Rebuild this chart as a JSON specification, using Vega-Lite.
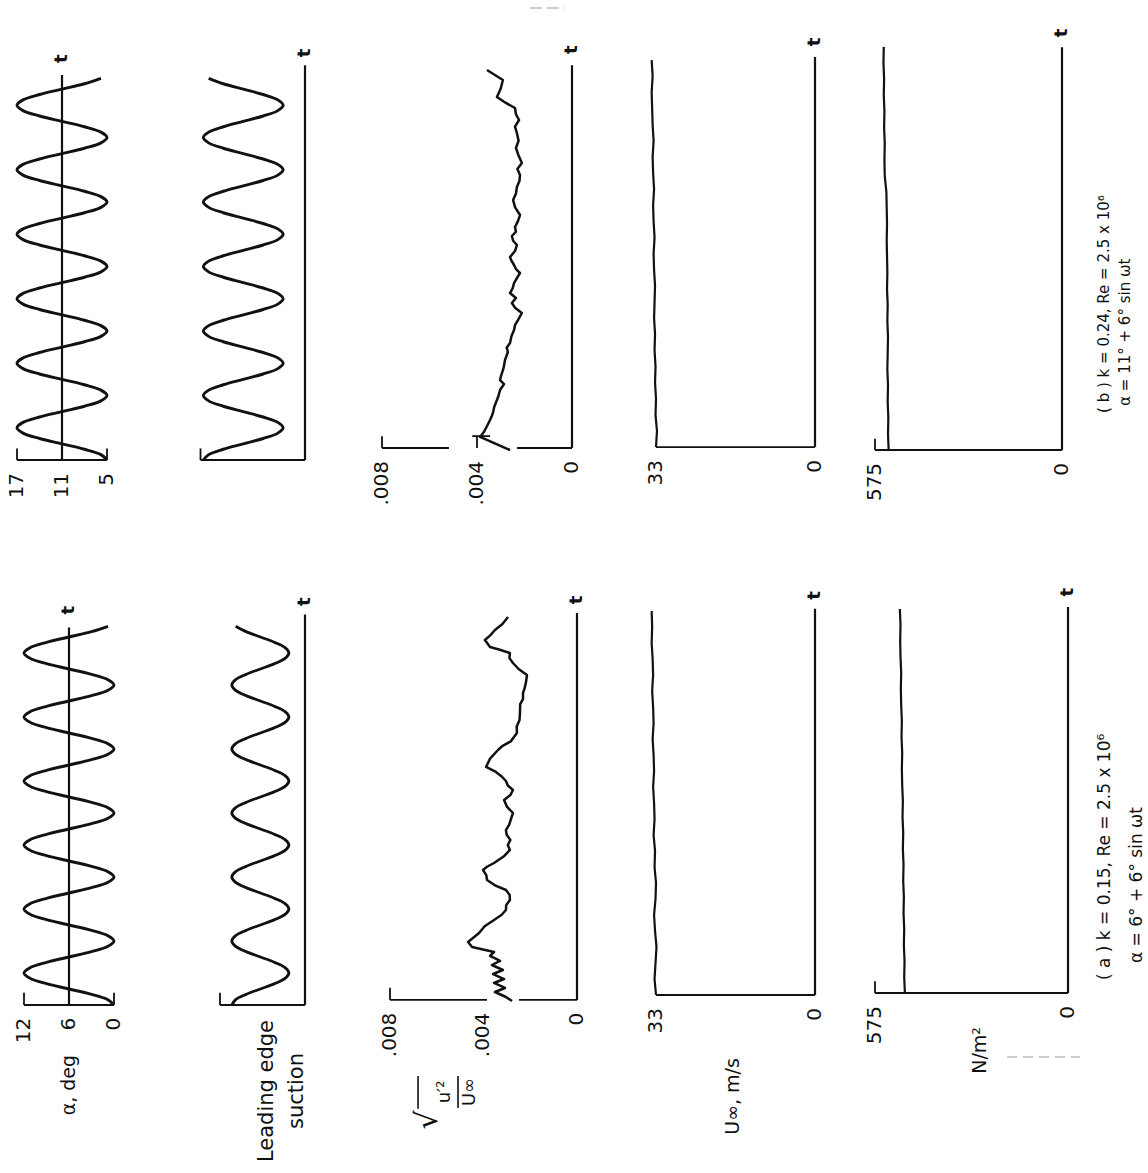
{
"$schema": "https://vega.github.io/schema/vega-lite/v6.json",
"padding": 0,
"background": "white",
"config": {"view": {"stroke": null}, "axis": {"disable": true}, "text": {"font": "DejaVu Sans", "color": "#111"}, "concat": {"spacing": 0}},
"datasets": {
"one": [{"k": 1}],
"sines": [
{"t":0,"ab":5,"aa":0,"lb":1.07,"la":0.77},{"t":0.0833,"ab":5.804,"aa":0.804,"lb":1.014,"la":0.73},{"t":0.1667,"ab":8,"aa":3,"lb":0.86,"la":0.62},{"t":0.25,"ab":11,"aa":6,"lb":0.65,"la":0.47},{"t":0.3333,"ab":14,"aa":9,"lb":0.44,"la":0.32},{"t":0.4167,"ab":16.196,"aa":11.196,"lb":0.286,"la":0.21},{"t":0.5,"ab":17,"aa":12,"lb":0.23,"la":0.17},{"t":0.5833,"ab":16.196,"aa":11.196,"lb":0.286,"la":0.21},{"t":0.6667,"ab":14,"aa":9,"lb":0.44,"la":0.32},{"t":0.75,"ab":11,"aa":6,"lb":0.65,"la":0.47},{"t":0.8333,"ab":8,"aa":3,"lb":0.86,"la":0.62},{"t":0.9167,"ab":5.804,"aa":0.804,"lb":1.014,"la":0.73},
{"t":1,"ab":5,"aa":0,"lb":1.07,"la":0.77},{"t":1.0833,"ab":5.804,"aa":0.804,"lb":1.014,"la":0.73},{"t":1.1667,"ab":8,"aa":3,"lb":0.86,"la":0.62},{"t":1.25,"ab":11,"aa":6,"lb":0.65,"la":0.47},{"t":1.3333,"ab":14,"aa":9,"lb":0.44,"la":0.32},{"t":1.4167,"ab":16.196,"aa":11.196,"lb":0.286,"la":0.21},{"t":1.5,"ab":17,"aa":12,"lb":0.23,"la":0.17},{"t":1.5833,"ab":16.196,"aa":11.196,"lb":0.286,"la":0.21},{"t":1.6667,"ab":14,"aa":9,"lb":0.44,"la":0.32},{"t":1.75,"ab":11,"aa":6,"lb":0.65,"la":0.47},{"t":1.8333,"ab":8,"aa":3,"lb":0.86,"la":0.62},{"t":1.9167,"ab":5.804,"aa":0.804,"lb":1.014,"la":0.73},
{"t":2,"ab":5,"aa":0,"lb":1.07,"la":0.77},{"t":2.0833,"ab":5.804,"aa":0.804,"lb":1.014,"la":0.73},{"t":2.1667,"ab":8,"aa":3,"lb":0.86,"la":0.62},{"t":2.25,"ab":11,"aa":6,"lb":0.65,"la":0.47},{"t":2.3333,"ab":14,"aa":9,"lb":0.44,"la":0.32},{"t":2.4167,"ab":16.196,"aa":11.196,"lb":0.286,"la":0.21},{"t":2.5,"ab":17,"aa":12,"lb":0.23,"la":0.17},{"t":2.5833,"ab":16.196,"aa":11.196,"lb":0.286,"la":0.21},{"t":2.6667,"ab":14,"aa":9,"lb":0.44,"la":0.32},{"t":2.75,"ab":11,"aa":6,"lb":0.65,"la":0.47},{"t":2.8333,"ab":8,"aa":3,"lb":0.86,"la":0.62},{"t":2.9167,"ab":5.804,"aa":0.804,"lb":1.014,"la":0.73},
{"t":3,"ab":5,"aa":0,"lb":1.07,"la":0.77},{"t":3.0833,"ab":5.804,"aa":0.804,"lb":1.014,"la":0.73},{"t":3.1667,"ab":8,"aa":3,"lb":0.86,"la":0.62},{"t":3.25,"ab":11,"aa":6,"lb":0.65,"la":0.47},{"t":3.3333,"ab":14,"aa":9,"lb":0.44,"la":0.32},{"t":3.4167,"ab":16.196,"aa":11.196,"lb":0.286,"la":0.21},{"t":3.5,"ab":17,"aa":12,"lb":0.23,"la":0.17},{"t":3.5833,"ab":16.196,"aa":11.196,"lb":0.286,"la":0.21},{"t":3.6667,"ab":14,"aa":9,"lb":0.44,"la":0.32},{"t":3.75,"ab":11,"aa":6,"lb":0.65,"la":0.47},{"t":3.8333,"ab":8,"aa":3,"lb":0.86,"la":0.62},{"t":3.9167,"ab":5.804,"aa":0.804,"lb":1.014,"la":0.73},
{"t":4,"ab":5,"aa":0,"lb":1.07,"la":0.77},{"t":4.0833,"ab":5.804,"aa":0.804,"lb":1.014,"la":0.73},{"t":4.1667,"ab":8,"aa":3,"lb":0.86,"la":0.62},{"t":4.25,"ab":11,"aa":6,"lb":0.65,"la":0.47},{"t":4.3333,"ab":14,"aa":9,"lb":0.44,"la":0.32},{"t":4.4167,"ab":16.196,"aa":11.196,"lb":0.286,"la":0.21},{"t":4.5,"ab":17,"aa":12,"lb":0.23,"la":0.17},{"t":4.5833,"ab":16.196,"aa":11.196,"lb":0.286,"la":0.21},{"t":4.6667,"ab":14,"aa":9,"lb":0.44,"la":0.32},{"t":4.75,"ab":11,"aa":6,"lb":0.65,"la":0.47},{"t":4.8333,"ab":8,"aa":3,"lb":0.86,"la":0.62},{"t":4.9167,"ab":5.804,"aa":0.804,"lb":1.014,"la":0.73},
{"t":5,"ab":5,"aa":0,"lb":1.07,"la":0.77},{"t":5.0833,"ab":5.804,"aa":0.804,"lb":1.014,"la":0.73},{"t":5.1667,"ab":8,"aa":3,"lb":0.86,"la":0.62},{"t":5.25,"ab":11,"aa":6,"lb":0.65,"la":0.47},{"t":5.3333,"ab":14,"aa":9,"lb":0.44,"la":0.32},{"t":5.4167,"ab":16.196,"aa":11.196,"lb":0.286,"la":0.21},{"t":5.5,"ab":17,"aa":12,"lb":0.23,"la":0.17},{"t":5.5833,"ab":16.196,"aa":11.196,"lb":0.286,"la":0.21},{"t":5.6667,"ab":14,"aa":9,"lb":0.44,"la":0.32},{"t":5.75,"ab":11,"aa":6,"lb":0.65,"la":0.47},{"t":5.8333,"ab":8,"aa":3,"lb":0.86,"la":0.62},{"t":5.9167,"ab":5.804,"aa":0.804,"lb":1.014,"la":0.73}
],
"turb_b": [
{"t":0.155,"v":0.00261},{"t":0.357,"v":0.00387},{"t":0.43,"v":0.00372},{"t":0.496,"v":0.00362},{"t":0.62,"v":0.00345},{"t":0.68,"v":0.00338},{"t":0.729,"v":0.00333},{"t":0.83,"v":0.00327},{"t":0.93,"v":0.00316},{"t":1.0,"v":0.00309},{"t":1.085,"v":0.00303},{"t":1.178,"v":0.00286},{"t":1.24,"v":0.00303},{"t":1.302,"v":0.00299},{"t":1.43,"v":0.00288},{"t":1.55,"v":0.00282},{"t":1.674,"v":0.0027},{"t":1.74,"v":0.00275},{"t":1.814,"v":0.00261},{"t":1.92,"v":0.00255},{"t":2.016,"v":0.00244},{"t":2.09,"v":0.0024},{"t":2.171,"v":0.00227},{"t":2.279,"v":0.00211},{"t":2.36,"v":0.0024},{"t":2.434,"v":0.00253},{"t":2.512,"v":0.00236},{"t":2.589,"v":0.00261},{"t":2.66,"v":0.0025},{"t":2.744,"v":0.00244},{"t":2.82,"v":0.00232},{"t":2.899,"v":0.00219},{"t":2.96,"v":0.00236},{"t":3.023,"v":0.00244},{"t":3.09,"v":0.00255},{"t":3.147,"v":0.00261},{"t":3.24,"v":0.0024},{"t":3.333,"v":0.00232},{"t":3.4,"v":0.00248},{"t":3.473,"v":0.00253},{"t":3.54,"v":0.00236},{"t":3.612,"v":0.0024},{"t":3.7,"v":0.00228},{"t":3.798,"v":0.00219},{"t":3.92,"v":0.0024},{"t":4.031,"v":0.00248},{"t":4.13,"v":0.00236},{"t":4.233,"v":0.00232},{"t":4.33,"v":0.00221},{"t":4.419,"v":0.00219},{"t":4.51,"v":0.0023},{"t":4.605,"v":0.00211},{"t":4.72,"v":0.00225},{"t":4.837,"v":0.00236},{"t":4.95,"v":0.00225},{"t":5.07,"v":0.00232},{"t":5.17,"v":0.0024},{"t":5.271,"v":0.00223},{"t":5.36,"v":0.00236},{"t":5.457,"v":0.0024},{"t":5.54,"v":0.0028},{"t":5.628,"v":0.00316},{"t":5.76,"v":0.003},{"t":5.891,"v":0.00291},{"t":6.047,"v":0.00358}
],
"turb_a": [
{"t":0.063,"v":0.00278},{"t":0.125,"v":0.00304},{"t":0.203,"v":0.00351},{"t":0.266,"v":0.00308},{"t":0.344,"v":0.00355},{"t":0.406,"v":0.00312},{"t":0.484,"v":0.00359},{"t":0.547,"v":0.00317},{"t":0.625,"v":0.00364},{"t":0.688,"v":0.00329},{"t":0.766,"v":0.00372},{"t":0.828,"v":0.00355},{"t":0.906,"v":0.00449},{"t":0.984,"v":0.00466},{"t":1.125,"v":0.00419},{"t":1.23,"v":0.00395},{"t":1.328,"v":0.00355},{"t":1.41,"v":0.00322},{"t":1.484,"v":0.00304},{"t":1.56,"v":0.00303},{"t":1.641,"v":0.00287},{"t":1.72,"v":0.00288},{"t":1.797,"v":0.00304},{"t":1.87,"v":0.00351},{"t":1.953,"v":0.00385},{"t":2.03,"v":0.00388},{"t":2.109,"v":0.00402},{"t":2.16,"v":0.00385},{"t":2.219,"v":0.00355},{"t":2.32,"v":0.00314},{"t":2.422,"v":0.00287},{"t":2.5,"v":0.00296},{"t":2.58,"v":0.00285},{"t":2.66,"v":0.00301},{"t":2.734,"v":0.00304},{"t":2.82,"v":0.0029},{"t":2.91,"v":0.00282},{"t":3.0,"v":0.00274},{"t":3.1,"v":0.003},{"t":3.203,"v":0.00312},{"t":3.28,"v":0.00285},{"t":3.359,"v":0.00274},{"t":3.43,"v":0.00296},{"t":3.5,"v":0.00304},{"t":3.57,"v":0.00322},{"t":3.641,"v":0.00347},{"t":3.719,"v":0.00389},{"t":3.85,"v":0.00372},{"t":3.984,"v":0.00338},{"t":4.05,"v":0.00318},{"t":4.12,"v":0.00283},{"t":4.25,"v":0.00257},{"t":4.35,"v":0.00258},{"t":4.45,"v":0.00246},{"t":4.563,"v":0.00244},{"t":4.7,"v":0.00243},{"t":4.78,"v":0.00231},{"t":4.875,"v":0.00231},{"t":4.95,"v":0.00224},{"t":5.05,"v":0.00218},{"t":5.156,"v":0.00214},{"t":5.25,"v":0.0025},{"t":5.344,"v":0.00274},{"t":5.42,"v":0.00289},{"t":5.5,"v":0.00287},{"t":5.55,"v":0.0033},{"t":5.594,"v":0.00372},{"t":5.703,"v":0.00394},{"t":5.78,"v":0.0037},{"t":5.859,"v":0.00351},{"t":5.95,"v":0.0032},{"t":6.063,"v":0.00295}
],
"u_b": [
{"t":0.2,"v":33.0},{"t":0.45,"v":32.8},{"t":0.7,"v":33.1},{"t":0.95,"v":33.0},{"t":1.2,"v":33.2},{"t":1.45,"v":33.1},{"t":1.7,"v":33.3},{"t":1.95,"v":33.2},{"t":2.2,"v":33.4},{"t":2.45,"v":33.3},{"t":2.7,"v":33.2},{"t":2.95,"v":33.4},{"t":3.2,"v":33.5},{"t":3.45,"v":33.3},{"t":3.7,"v":33.5},{"t":3.95,"v":33.6},{"t":4.2,"v":33.4},{"t":4.45,"v":33.6},{"t":4.7,"v":33.7},{"t":4.95,"v":33.5},{"t":5.2,"v":33.7},{"t":5.45,"v":33.8},{"t":5.7,"v":33.9},{"t":5.95,"v":33.7},{"t":6.2,"v":33.9}
],
"u_a": [
{"t":0.156,"v":33.0},{"t":0.406,"v":33.3},{"t":0.656,"v":33.1},{"t":0.906,"v":32.9},{"t":1.156,"v":33.2},{"t":1.406,"v":33.4},{"t":1.656,"v":33.1},{"t":1.906,"v":33.0},{"t":2.156,"v":33.3},{"t":2.406,"v":33.2},{"t":2.656,"v":33.5},{"t":2.906,"v":33.3},{"t":3.156,"v":33.4},{"t":3.406,"v":33.6},{"t":3.656,"v":33.4},{"t":3.906,"v":33.5},{"t":4.156,"v":33.7},{"t":4.406,"v":33.5},{"t":4.656,"v":33.6},{"t":4.906,"v":33.8},{"t":5.156,"v":33.6},{"t":5.406,"v":33.7},{"t":5.656,"v":33.9},{"t":5.906,"v":33.8},{"t":6.156,"v":33.9}
],
"n_b": [
{"t":0.155,"v":533},{"t":0.405,"v":535},{"t":0.655,"v":534},{"t":0.905,"v":536},{"t":1.155,"v":535},{"t":1.405,"v":537},{"t":1.655,"v":536},{"t":1.905,"v":535},{"t":2.155,"v":537},{"t":2.405,"v":536},{"t":2.655,"v":538},{"t":2.905,"v":537},{"t":3.155,"v":538},{"t":3.405,"v":539},{"t":3.655,"v":538},{"t":3.905,"v":539},{"t":4.155,"v":540},{"t":4.405,"v":545},{"t":4.655,"v":546},{"t":4.905,"v":545},{"t":5.155,"v":547},{"t":5.405,"v":546},{"t":5.655,"v":548},{"t":5.905,"v":547},{"t":6.155,"v":549},{"t":6.405,"v":548}
],
"n_a": [
{"t":0.1875,"v":486},{"t":0.4375,"v":488},{"t":0.6875,"v":487},{"t":0.9375,"v":489},{"t":1.1875,"v":488},{"t":1.4375,"v":490},{"t":1.6875,"v":489},{"t":1.9375,"v":491},{"t":2.1875,"v":490},{"t":2.4375,"v":492},{"t":2.6875,"v":491},{"t":2.9375,"v":493},{"t":3.1875,"v":492},{"t":3.4375,"v":494},{"t":3.6875,"v":495},{"t":3.9375,"v":494},{"t":4.1875,"v":496},{"t":4.4375,"v":495},{"t":4.6875,"v":497},{"t":4.9375,"v":498},{"t":5.1875,"v":497},{"t":5.4375,"v":499},{"t":5.6875,"v":500},{"t":5.9375,"v":499},{"t":6.1875,"v":501}
]
},
"spacing": 0,
"vconcat": [
{"spacing": 0, "bounds": "flush", "hconcat": [
 {"width": 150, "height": 540, "data": {"name": "one"},
  "layer": [
   {"data": {"name": "sines"}, "mark": {"type": "line", "interpolate": "catmull-rom", "strokeWidth": 2.9, "color": "#111"},
    "encoding": {"x": {"field": "ab", "type": "quantitative", "scale": {"domain": [19.2667, -0.7333], "nice": false, "zero": false}, "axis": null}, "y": {"field": "t", "type": "quantitative", "scale": {"domain": [-1.2403, 7.1318], "nice": false, "zero": false}, "axis": null}, "order": {"field": "t"}}},
   {"mark": {"type": "rule", "strokeWidth": 2.2, "color": "#111"}, "encoding": {"x": {"datum": 11, "type": "quantitative", "scale": {"domain": [19.2667, -0.7333], "nice": false, "zero": false}, "axis": null}, "y": {"datum": 0, "type": "quantitative", "scale": {"domain": [-1.2403, 7.1318], "nice": false, "zero": false}, "axis": null}, "y2": {"datum": 5.97}}},
   {"mark": {"type": "rule", "strokeWidth": 1.8, "color": "#111"}, "encoding": {"x": {"datum": 17, "type": "quantitative", "scale": {"domain": [19.2667, -0.7333], "nice": false, "zero": false}, "axis": null}, "x2": {"datum": 5}, "y": {"datum": 0, "type": "quantitative", "scale": {"domain": [-1.2403, 7.1318], "nice": false, "zero": false}, "axis": null}}},
   {"data": {"values": [{"v": 17}, {"v": 5}]}, "mark": {"type": "rule", "strokeWidth": 1.8, "color": "#111"}, "encoding": {"x": {"field": "v", "type": "quantitative", "scale": {"domain": [19.2667, -0.7333], "nice": false, "zero": false}, "axis": null}, "y": {"datum": 0, "type": "quantitative", "scale": {"domain": [-1.2403, 7.1318], "nice": false, "zero": false}, "axis": null}, "y2": {"datum": 0.18}}},
   {"data": {"values": [{"v": 17, "label": "17"}, {"v": 11, "label": "11"}, {"v": 5, "label": "5"}]}, "mark": {"type": "text", "angle": 270, "align": "right", "baseline": "middle", "fontSize": 20}, "encoding": {"x": {"field": "v", "type": "quantitative", "scale": {"domain": [19.2667, -0.7333], "nice": false, "zero": false}, "axis": null}, "y": {"datum": -0.2, "type": "quantitative", "scale": {"domain": [-1.2403, 7.1318], "nice": false, "zero": false}, "axis": null}, "text": {"field": "label"}}},
   {"mark": {"type": "text", "angle": 270, "align": "center", "baseline": "middle", "fontSize": 18, "fontWeight": "bold", "text": "t"}, "encoding": {"x": {"datum": 11, "type": "quantitative", "scale": {"domain": [19.2667, -0.7333], "nice": false, "zero": false}, "axis": null}, "y": {"datum": 6.22, "type": "quantitative", "scale": {"domain": [-1.2403, 7.1318], "nice": false, "zero": false}, "axis": null}}}
  ]},
 {"width": 190, "height": 540, "data": {"name": "one"},
  "layer": [
   {"data": {"name": "sines"}, "mark": {"type": "line", "interpolate": "catmull-rom", "strokeWidth": 2.9, "color": "#111"},
    "encoding": {"x": {"field": "lb", "type": "quantitative", "scale": {"domain": [1.6316, -0.3684], "nice": false, "zero": false}, "axis": null}, "y": {"field": "t", "type": "quantitative", "scale": {"domain": [-1.2403, 7.1318], "nice": false, "zero": false}, "axis": null}, "order": {"field": "t"}}},
   {"mark": {"type": "rule", "strokeWidth": 2.2, "color": "#111"}, "encoding": {"x": {"datum": 0, "type": "quantitative", "scale": {"domain": [1.6316, -0.3684], "nice": false, "zero": false}, "axis": null}, "y": {"datum": 0, "type": "quantitative", "scale": {"domain": [-1.2403, 7.1318], "nice": false, "zero": false}, "axis": null}, "y2": {"datum": 6.12}}},
   {"mark": {"type": "rule", "strokeWidth": 1.8, "color": "#111"}, "encoding": {"x": {"datum": 1.1, "type": "quantitative", "scale": {"domain": [1.6316, -0.3684], "nice": false, "zero": false}, "axis": null}, "x2": {"datum": 0}, "y": {"datum": 0, "type": "quantitative", "scale": {"domain": [-1.2403, 7.1318], "nice": false, "zero": false}, "axis": null}}},
   {"mark": {"type": "rule", "strokeWidth": 1.8, "color": "#111"}, "encoding": {"x": {"datum": 1.1, "type": "quantitative", "scale": {"domain": [1.6316, -0.3684], "nice": false, "zero": false}, "axis": null}, "y": {"datum": 0, "type": "quantitative", "scale": {"domain": [-1.2403, 7.1318], "nice": false, "zero": false}, "axis": null}, "y2": {"datum": 0.18}}},
   {"mark": {"type": "text", "angle": 270, "align": "center", "baseline": "middle", "fontSize": 18, "fontWeight": "bold", "text": "t"}, "encoding": {"x": {"datum": 0, "type": "quantitative", "scale": {"domain": [1.6316, -0.3684], "nice": false, "zero": false}, "axis": null}, "y": {"datum": 6.31, "type": "quantitative", "scale": {"domain": [-1.2403, 7.1318], "nice": false, "zero": false}, "axis": null}}}
  ]},
 {"width": 275, "height": 540, "data": {"name": "one"},
  "layer": [
   {"data": {"name": "turb_b"}, "mark": {"type": "line", "strokeWidth": 2.5, "color": "#111", "strokeJoin": "round"}, "encoding": {"x": {"field": "v", "type": "quantitative", "scale": {"domain": [0.0097684, -0.0018105], "nice": false, "zero": false}, "axis": null}, "y": {"field": "t", "type": "quantitative", "scale": {"domain": [-1.2403, 7.1318], "nice": false, "zero": false}, "axis": null}, "order": {"field": "t"}}},
   {"mark": {"type": "rule", "strokeWidth": 2.2, "color": "#111"}, "encoding": {"x": {"datum": 0, "type": "quantitative", "scale": {"domain": [0.0097684, -0.0018105], "nice": false, "zero": false}, "axis": null}, "y": {"datum": 0.186, "type": "quantitative", "scale": {"domain": [-1.2403, 7.1318], "nice": false, "zero": false}, "axis": null}, "y2": {"datum": 6.12}}},
   {"data": {"values": [{"v": 0.008, "v2": 0.00518}, {"v": 0.00232, "v2": 0}]}, "mark": {"type": "rule", "strokeWidth": 1.8, "color": "#111"}, "encoding": {"x": {"field": "v", "type": "quantitative", "scale": {"domain": [0.0097684, -0.0018105], "nice": false, "zero": false}, "axis": null}, "x2": {"field": "v2"}, "y": {"datum": 0.186, "type": "quantitative", "scale": {"domain": [-1.2403, 7.1318], "nice": false, "zero": false}, "axis": null}}},
   {"data": {"values": [{"v": 0.008}, {"v": 0.004}]}, "mark": {"type": "rule", "strokeWidth": 1.8, "color": "#111"}, "encoding": {"x": {"field": "v", "type": "quantitative", "scale": {"domain": [0.0097684, -0.0018105], "nice": false, "zero": false}, "axis": null}, "y": {"datum": 0.186, "type": "quantitative", "scale": {"domain": [-1.2403, 7.1318], "nice": false, "zero": false}, "axis": null}, "y2": {"datum": 0.37}}},
   {"mark": {"type": "rule", "strokeWidth": 1.8, "color": "#111"}, "encoding": {"x": {"datum": 0.0042, "type": "quantitative", "scale": {"domain": [0.0097684, -0.0018105], "nice": false, "zero": false}, "axis": null}, "x2": {"datum": 0.00345}, "y": {"datum": 0.37, "type": "quantitative", "scale": {"domain": [-1.2403, 7.1318], "nice": false, "zero": false}, "axis": null}}},
   {"data": {"values": [{"v": 0.008, "label": ".008"}, {"v": 0.004, "label": ".004"}, {"v": 0, "label": "0"}]}, "mark": {"type": "text", "angle": 270, "align": "right", "baseline": "middle", "fontSize": 20}, "encoding": {"x": {"field": "v", "type": "quantitative", "scale": {"domain": [0.0097684, -0.0018105], "nice": false, "zero": false}, "axis": null}, "y": {"datum": -0.016, "type": "quantitative", "scale": {"domain": [-1.2403, 7.1318], "nice": false, "zero": false}, "axis": null}, "text": {"field": "label"}}},
   {"mark": {"type": "rule", "strokeWidth": 1.2, "color": "#999", "strokeDash": [12, 5]}, "encoding": {"x": {"datum": 0.00177, "type": "quantitative", "scale": {"domain": [0.0097684, -0.0018105], "nice": false, "zero": false}, "axis": null}, "x2": {"datum": 0.0003}, "y": {"datum": 7.008, "type": "quantitative", "scale": {"domain": [-1.2403, 7.1318], "nice": false, "zero": false}, "axis": null}}},
   {"mark": {"type": "text", "angle": 270, "align": "center", "baseline": "middle", "fontSize": 18, "fontWeight": "bold", "text": "t"}, "encoding": {"x": {"datum": 0, "type": "quantitative", "scale": {"domain": [0.0097684, -0.0018105], "nice": false, "zero": false}, "axis": null}, "y": {"datum": 6.36, "type": "quantitative", "scale": {"domain": [-1.2403, 7.1318], "nice": false, "zero": false}, "axis": null}}}
  ]},
 {"width": 240, "height": 540, "data": {"name": "one"},
  "layer": [
   {"data": {"name": "u_b"}, "mark": {"type": "line", "strokeWidth": 2.2, "color": "#111"}, "encoding": {"x": {"field": "v", "type": "quantitative", "scale": {"domain": [41.51, -8.3], "nice": false, "zero": false}, "axis": null}, "y": {"field": "t", "type": "quantitative", "scale": {"domain": [-1.2403, 7.1318], "nice": false, "zero": false}, "axis": null}, "order": {"field": "t"}}},
   {"mark": {"type": "rule", "strokeWidth": 2.2, "color": "#111"}, "encoding": {"x": {"datum": 0, "type": "quantitative", "scale": {"domain": [41.51, -8.3], "nice": false, "zero": false}, "axis": null}, "y": {"datum": 0.2, "type": "quantitative", "scale": {"domain": [-1.2403, 7.1318], "nice": false, "zero": false}, "axis": null}, "y2": {"datum": 6.25}}},
   {"mark": {"type": "rule", "strokeWidth": 1.8, "color": "#111"}, "encoding": {"x": {"datum": 33, "type": "quantitative", "scale": {"domain": [41.51, -8.3], "nice": false, "zero": false}, "axis": null}, "x2": {"datum": 0}, "y": {"datum": 0.2, "type": "quantitative", "scale": {"domain": [-1.2403, 7.1318], "nice": false, "zero": false}, "axis": null}}},
   {"data": {"values": [{"v": 33, "label": "33"}, {"v": 0, "label": "0"}]}, "mark": {"type": "text", "angle": 270, "align": "right", "baseline": "middle", "fontSize": 20}, "encoding": {"x": {"field": "v", "type": "quantitative", "scale": {"domain": [41.51, -8.3], "nice": false, "zero": false}, "axis": null}, "y": {"datum": 0.0, "type": "quantitative", "scale": {"domain": [-1.2403, 7.1318], "nice": false, "zero": false}, "axis": null}, "text": {"field": "label"}}},
   {"mark": {"type": "text", "angle": 270, "align": "center", "baseline": "middle", "fontSize": 18, "fontWeight": "bold", "text": "t"}, "encoding": {"x": {"datum": 0, "type": "quantitative", "scale": {"domain": [41.51, -8.3], "nice": false, "zero": false}, "axis": null}, "y": {"datum": 6.48, "type": "quantitative", "scale": {"domain": [-1.2403, 7.1318], "nice": false, "zero": false}, "axis": null}}}
  ]},
 {"width": 235, "height": 540, "data": {"name": "one"},
  "layer": [
   {"data": {"name": "n_b"}, "mark": {"type": "line", "strokeWidth": 2.2, "color": "#111"}, "encoding": {"x": {"field": "v", "type": "quantitative", "scale": {"domain": [636.5, -86.1], "nice": false, "zero": false}, "axis": null}, "y": {"field": "t", "type": "quantitative", "scale": {"domain": [-1.2403, 7.1318], "nice": false, "zero": false}, "axis": null}, "order": {"field": "t"}}},
   {"mark": {"type": "rule", "strokeWidth": 2.2, "color": "#111"}, "encoding": {"x": {"datum": 0, "type": "quantitative", "scale": {"domain": [636.5, -86.1], "nice": false, "zero": false}, "axis": null}, "y": {"datum": 0.155, "type": "quantitative", "scale": {"domain": [-1.2403, 7.1318], "nice": false, "zero": false}, "axis": null}, "y2": {"datum": 6.4}}},
   {"mark": {"type": "rule", "strokeWidth": 1.8, "color": "#111"}, "encoding": {"x": {"datum": 575, "type": "quantitative", "scale": {"domain": [636.5, -86.1], "nice": false, "zero": false}, "axis": null}, "x2": {"datum": 0}, "y": {"datum": 0.155, "type": "quantitative", "scale": {"domain": [-1.2403, 7.1318], "nice": false, "zero": false}, "axis": null}}},
   {"mark": {"type": "rule", "strokeWidth": 1.8, "color": "#111"}, "encoding": {"x": {"datum": 575, "type": "quantitative", "scale": {"domain": [636.5, -86.1], "nice": false, "zero": false}, "axis": null}, "y": {"datum": 0.155, "type": "quantitative", "scale": {"domain": [-1.2403, 7.1318], "nice": false, "zero": false}, "axis": null}, "y2": {"datum": 0.33}}},
   {"data": {"values": [{"v": 575, "label": "575"}, {"v": 0, "label": "0"}]}, "mark": {"type": "text", "angle": 270, "align": "right", "baseline": "middle", "fontSize": 20}, "encoding": {"x": {"field": "v", "type": "quantitative", "scale": {"domain": [636.5, -86.1], "nice": false, "zero": false}, "axis": null}, "y": {"datum": -0.045, "type": "quantitative", "scale": {"domain": [-1.2403, 7.1318], "nice": false, "zero": false}, "axis": null}, "text": {"field": "label"}}},
   {"mark": {"type": "text", "angle": 270, "align": "center", "baseline": "middle", "fontSize": 18, "fontWeight": "bold", "text": "t"}, "encoding": {"x": {"datum": 0, "type": "quantitative", "scale": {"domain": [636.5, -86.1], "nice": false, "zero": false}, "axis": null}, "y": {"datum": 6.62, "type": "quantitative", "scale": {"domain": [-1.2403, 7.1318], "nice": false, "zero": false}, "axis": null}}}
  ]},
 {"width": 58, "height": 540, "data": {"name": "one"},
  "layer": [
   {"mark": {"type": "text", "angle": 270, "align": "left", "baseline": "middle", "fontSize": 15, "text": "( b )  k = 0.24,  Re = 2.5 x 10⁶"}, "encoding": {"x": {"datum": 14, "type": "quantitative", "scale": {"domain": [0, 58], "nice": false, "zero": false}, "axis": null}, "y": {"datum": 0.73, "type": "quantitative", "scale": {"domain": [-1.2403, 7.1318], "nice": false, "zero": false}, "axis": null}}},
   {"mark": {"type": "text", "angle": 270, "align": "left", "baseline": "middle", "fontSize": 15, "text": "α = 11° + 6°  sin ωt"}, "encoding": {"x": {"datum": 35, "type": "quantitative", "scale": {"domain": [0, 58], "nice": false, "zero": false}, "axis": null}, "y": {"datum": 0.84, "type": "quantitative", "scale": {"domain": [-1.2403, 7.1318], "nice": false, "zero": false}, "axis": null}}}
  ]}
]},
{"spacing": 0, "bounds": "flush", "hconcat": [
 {"width": 150, "height": 633, "data": {"name": "one"},
  "layer": [
   {"data": {"name": "sines"}, "mark": {"type": "line", "interpolate": "catmull-rom", "strokeWidth": 2.9, "color": "#111"},
    "encoding": {"x": {"field": "aa", "type": "quantitative", "scale": {"domain": [15.2, -4.8], "nice": false, "zero": false}, "axis": null}, "y": {"field": "t", "type": "quantitative", "scale": {"domain": [-2.625, 7.2656], "nice": false, "zero": false}, "axis": null}, "order": {"field": "t"}}},
   {"mark": {"type": "rule", "strokeWidth": 2.2, "color": "#111"}, "encoding": {"x": {"datum": 6, "type": "quantitative", "scale": {"domain": [15.2, -4.8], "nice": false, "zero": false}, "axis": null}, "y": {"datum": 0, "type": "quantitative", "scale": {"domain": [-2.625, 7.2656], "nice": false, "zero": false}, "axis": null}, "y2": {"datum": 5.9}}},
   {"mark": {"type": "rule", "strokeWidth": 1.8, "color": "#111"}, "encoding": {"x": {"datum": 12, "type": "quantitative", "scale": {"domain": [15.2, -4.8], "nice": false, "zero": false}, "axis": null}, "x2": {"datum": 0}, "y": {"datum": 0, "type": "quantitative", "scale": {"domain": [-2.625, 7.2656], "nice": false, "zero": false}, "axis": null}}},
   {"data": {"values": [{"v": 12}, {"v": 0}]}, "mark": {"type": "rule", "strokeWidth": 1.8, "color": "#111"}, "encoding": {"x": {"field": "v", "type": "quantitative", "scale": {"domain": [15.2, -4.8], "nice": false, "zero": false}, "axis": null}, "y": {"datum": 0, "type": "quantitative", "scale": {"domain": [-2.625, 7.2656], "nice": false, "zero": false}, "axis": null}, "y2": {"datum": 0.19}}},
   {"data": {"values": [{"v": 12, "label": "12"}, {"v": 6, "label": "6"}, {"v": 0, "label": "0"}]}, "mark": {"type": "text", "angle": 270, "align": "right", "baseline": "middle", "fontSize": 20}, "encoding": {"x": {"field": "v", "type": "quantitative", "scale": {"domain": [15.2, -4.8], "nice": false, "zero": false}, "axis": null}, "y": {"datum": -0.2, "type": "quantitative", "scale": {"domain": [-2.625, 7.2656], "nice": false, "zero": false}, "axis": null}, "text": {"field": "label"}}},
   {"mark": {"type": "text", "angle": 270, "align": "right", "baseline": "middle", "fontSize": 19, "text": "α, deg"}, "encoding": {"x": {"datum": 6, "type": "quantitative", "scale": {"domain": [15.2, -4.8], "nice": false, "zero": false}, "axis": null}, "y": {"datum": -0.78, "type": "quantitative", "scale": {"domain": [-2.625, 7.2656], "nice": false, "zero": false}, "axis": null}}},
   {"mark": {"type": "text", "angle": 270, "align": "center", "baseline": "middle", "fontSize": 18, "fontWeight": "bold", "text": "t"}, "encoding": {"x": {"datum": 6, "type": "quantitative", "scale": {"domain": [15.2, -4.8], "nice": false, "zero": false}, "axis": null}, "y": {"datum": 6.17, "type": "quantitative", "scale": {"domain": [-2.625, 7.2656], "nice": false, "zero": false}, "axis": null}}}
  ]},
 {"width": 190, "height": 633, "data": {"name": "one"},
  "layer": [
   {"data": {"name": "sines"}, "mark": {"type": "line", "interpolate": "catmull-rom", "strokeWidth": 2.9, "color": "#111"},
    "encoding": {"x": {"field": "la", "type": "quantitative", "scale": {"domain": [1.6316, -0.3684], "nice": false, "zero": false}, "axis": null}, "y": {"field": "t", "type": "quantitative", "scale": {"domain": [-2.625, 7.2656], "nice": false, "zero": false}, "axis": null}, "order": {"field": "t"}}},
   {"mark": {"type": "rule", "strokeWidth": 2.2, "color": "#111"}, "encoding": {"x": {"datum": 0, "type": "quantitative", "scale": {"domain": [1.6316, -0.3684], "nice": false, "zero": false}, "axis": null}, "y": {"datum": 0, "type": "quantitative", "scale": {"domain": [-2.625, 7.2656], "nice": false, "zero": false}, "axis": null}, "y2": {"datum": 6.1}}},
   {"mark": {"type": "rule", "strokeWidth": 1.8, "color": "#111"}, "encoding": {"x": {"datum": 0.895, "type": "quantitative", "scale": {"domain": [1.6316, -0.3684], "nice": false, "zero": false}, "axis": null}, "x2": {"datum": 0}, "y": {"datum": 0, "type": "quantitative", "scale": {"domain": [-2.625, 7.2656], "nice": false, "zero": false}, "axis": null}}},
   {"mark": {"type": "rule", "strokeWidth": 1.8, "color": "#111"}, "encoding": {"x": {"datum": 0.895, "type": "quantitative", "scale": {"domain": [1.6316, -0.3684], "nice": false, "zero": false}, "axis": null}, "y": {"datum": 0, "type": "quantitative", "scale": {"domain": [-2.625, 7.2656], "nice": false, "zero": false}, "axis": null}, "y2": {"datum": 0.19}}},
   {"mark": {"type": "text", "angle": 270, "align": "center", "baseline": "middle", "fontSize": 21, "lineHeight": 30, "text": ["Leading edge", "suction"]}, "encoding": {"x": {"datum": 0.4, "type": "quantitative", "scale": {"domain": [1.6316, -0.3684], "nice": false, "zero": false}, "axis": null}, "y": {"datum": -1.344, "type": "quantitative", "scale": {"domain": [-2.625, 7.2656], "nice": false, "zero": false}, "axis": null}}},
   {"mark": {"type": "text", "angle": 270, "align": "center", "baseline": "middle", "fontSize": 18, "fontWeight": "bold", "text": "t"}, "encoding": {"x": {"datum": 0, "type": "quantitative", "scale": {"domain": [1.6316, -0.3684], "nice": false, "zero": false}, "axis": null}, "y": {"datum": 6.3, "type": "quantitative", "scale": {"domain": [-2.625, 7.2656], "nice": false, "zero": false}, "axis": null}}}
  ]},
 {"width": 275, "height": 633, "data": {"name": "one"},
  "layer": [
   {"data": {"name": "turb_a"}, "mark": {"type": "line", "strokeWidth": 2.5, "color": "#111", "strokeJoin": "round"}, "encoding": {"x": {"field": "v", "type": "quantitative", "scale": {"domain": [0.010139, -0.0016257], "nice": false, "zero": false}, "axis": null}, "y": {"field": "t", "type": "quantitative", "scale": {"domain": [-2.625, 7.2656], "nice": false, "zero": false}, "axis": null}, "order": {"field": "t"}}},
   {"mark": {"type": "rule", "strokeWidth": 2.2, "color": "#111"}, "encoding": {"x": {"datum": 0, "type": "quantitative", "scale": {"domain": [0.010139, -0.0016257], "nice": false, "zero": false}, "axis": null}, "y": {"datum": 0.08, "type": "quantitative", "scale": {"domain": [-2.625, 7.2656], "nice": false, "zero": false}, "axis": null}, "y2": {"datum": 6.125}}},
   {"data": {"values": [{"v": 0.008, "v2": 0.00385}, {"v": 0.00248, "v2": 0}]}, "mark": {"type": "rule", "strokeWidth": 1.8, "color": "#111"}, "encoding": {"x": {"field": "v", "type": "quantitative", "scale": {"domain": [0.010139, -0.0016257], "nice": false, "zero": false}, "axis": null}, "x2": {"field": "v2"}, "y": {"datum": 0.08, "type": "quantitative", "scale": {"domain": [-2.625, 7.2656], "nice": false, "zero": false}, "axis": null}}},
   {"mark": {"type": "rule", "strokeWidth": 1.8, "color": "#111"}, "encoding": {"x": {"datum": 0.008, "type": "quantitative", "scale": {"domain": [0.010139, -0.0016257], "nice": false, "zero": false}, "axis": null}, "y": {"datum": 0.08, "type": "quantitative", "scale": {"domain": [-2.625, 7.2656], "nice": false, "zero": false}, "axis": null}, "y2": {"datum": 0.27}}},
   {"data": {"values": [{"v": 0.008, "label": ".008"}, {"v": 0.004, "label": ".004"}, {"v": 0, "label": "0"}]}, "mark": {"type": "text", "angle": 270, "align": "right", "baseline": "middle", "fontSize": 20}, "encoding": {"x": {"field": "v", "type": "quantitative", "scale": {"domain": [0.010139, -0.0016257], "nice": false, "zero": false}, "axis": null}, "y": {"datum": -0.12, "type": "quantitative", "scale": {"domain": [-2.625, 7.2656], "nice": false, "zero": false}, "axis": null}, "text": {"field": "label"}}},
   {"mark": {"type": "text", "angle": 270, "align": "center", "baseline": "middle", "fontSize": 30, "text": "√"}, "encoding": {"x": {"datum": 0.006374, "type": "quantitative", "scale": {"domain": [0.010139, -0.0016257], "nice": false, "zero": false}, "axis": null}, "y": {"datum": -1.797, "type": "quantitative", "scale": {"domain": [-2.625, 7.2656], "nice": false, "zero": false}, "axis": null}}},
   {"mark": {"type": "rule", "strokeWidth": 1.6, "color": "#111"}, "encoding": {"x": {"datum": 0.0068, "type": "quantitative", "scale": {"domain": [0.010139, -0.0016257], "nice": false, "zero": false}, "axis": null}, "y": {"datum": -1.109, "type": "quantitative", "scale": {"domain": [-2.625, 7.2656], "nice": false, "zero": false}, "axis": null}, "y2": {"datum": -1.62}}},
   {"mark": {"type": "text", "angle": 270, "align": "center", "baseline": "middle", "fontSize": 18, "text": "u′²"}, "encoding": {"x": {"datum": 0.005647, "type": "quantitative", "scale": {"domain": [0.010139, -0.0016257], "nice": false, "zero": false}, "axis": null}, "y": {"datum": -1.359, "type": "quantitative", "scale": {"domain": [-2.625, 7.2656], "nice": false, "zero": false}, "axis": null}}},
   {"mark": {"type": "rule", "strokeWidth": 1.6, "color": "#111"}, "encoding": {"x": {"datum": 0.005091, "type": "quantitative", "scale": {"domain": [0.010139, -0.0016257], "nice": false, "zero": false}, "axis": null}, "y": {"datum": -1.109, "type": "quantitative", "scale": {"domain": [-2.625, 7.2656], "nice": false, "zero": false}, "axis": null}, "y2": {"datum": -1.609}}},
   {"mark": {"type": "text", "angle": 270, "align": "center", "baseline": "middle", "fontSize": 18, "text": "U∞"}, "encoding": {"x": {"datum": 0.004578, "type": "quantitative", "scale": {"domain": [0.010139, -0.0016257], "nice": false, "zero": false}, "axis": null}, "y": {"datum": -1.359, "type": "quantitative", "scale": {"domain": [-2.625, 7.2656], "nice": false, "zero": false}, "axis": null}}},
   {"mark": {"type": "text", "angle": 270, "align": "center", "baseline": "middle", "fontSize": 18, "fontWeight": "bold", "text": "t"}, "encoding": {"x": {"datum": 0, "type": "quantitative", "scale": {"domain": [0.010139, -0.0016257], "nice": false, "zero": false}, "axis": null}, "y": {"datum": 6.33, "type": "quantitative", "scale": {"domain": [-2.625, 7.2656], "nice": false, "zero": false}, "axis": null}}}
  ]},
 {"width": 240, "height": 633, "data": {"name": "one"},
  "layer": [
   {"data": {"name": "u_a"}, "mark": {"type": "line", "strokeWidth": 2.2, "color": "#111"}, "encoding": {"x": {"field": "v", "type": "quantitative", "scale": {"domain": [41.51, -8.3], "nice": false, "zero": false}, "axis": null}, "y": {"field": "t", "type": "quantitative", "scale": {"domain": [-2.625, 7.2656], "nice": false, "zero": false}, "axis": null}, "order": {"field": "t"}}},
   {"mark": {"type": "rule", "strokeWidth": 2.2, "color": "#111"}, "encoding": {"x": {"datum": 0, "type": "quantitative", "scale": {"domain": [41.51, -8.3], "nice": false, "zero": false}, "axis": null}, "y": {"datum": 0.156, "type": "quantitative", "scale": {"domain": [-2.625, 7.2656], "nice": false, "zero": false}, "axis": null}, "y2": {"datum": 6.19}}},
   {"mark": {"type": "rule", "strokeWidth": 1.8, "color": "#111"}, "encoding": {"x": {"datum": 33, "type": "quantitative", "scale": {"domain": [41.51, -8.3], "nice": false, "zero": false}, "axis": null}, "x2": {"datum": 0}, "y": {"datum": 0.156, "type": "quantitative", "scale": {"domain": [-2.625, 7.2656], "nice": false, "zero": false}, "axis": null}}},
   {"data": {"values": [{"v": 33, "label": "33"}, {"v": 0, "label": "0"}]}, "mark": {"type": "text", "angle": 270, "align": "right", "baseline": "middle", "fontSize": 20}, "encoding": {"x": {"field": "v", "type": "quantitative", "scale": {"domain": [41.51, -8.3], "nice": false, "zero": false}, "axis": null}, "y": {"datum": -0.047, "type": "quantitative", "scale": {"domain": [-2.625, 7.2656], "nice": false, "zero": false}, "axis": null}, "text": {"field": "label"}}},
   {"mark": {"type": "text", "angle": 270, "align": "right", "baseline": "middle", "fontSize": 19, "text": "U∞, m/s"}, "encoding": {"x": {"datum": 17, "type": "quantitative", "scale": {"domain": [41.51, -8.3], "nice": false, "zero": false}, "axis": null}, "y": {"datum": -0.83, "type": "quantitative", "scale": {"domain": [-2.625, 7.2656], "nice": false, "zero": false}, "axis": null}}},
   {"mark": {"type": "text", "angle": 270, "align": "center", "baseline": "middle", "fontSize": 18, "fontWeight": "bold", "text": "t"}, "encoding": {"x": {"datum": 0, "type": "quantitative", "scale": {"domain": [41.51, -8.3], "nice": false, "zero": false}, "axis": null}, "y": {"datum": 6.4, "type": "quantitative", "scale": {"domain": [-2.625, 7.2656], "nice": false, "zero": false}, "axis": null}}}
  ]},
 {"width": 235, "height": 633, "data": {"name": "one"},
  "layer": [
   {"data": {"name": "n_a"}, "mark": {"type": "line", "strokeWidth": 2.2, "color": "#111"}, "encoding": {"x": {"field": "v", "type": "quantitative", "scale": {"domain": [634.6, -65.5], "nice": false, "zero": false}, "axis": null}, "y": {"field": "t", "type": "quantitative", "scale": {"domain": [-2.625, 7.2656], "nice": false, "zero": false}, "axis": null}, "order": {"field": "t"}}},
   {"mark": {"type": "rule", "strokeWidth": 2.2, "color": "#111"}, "encoding": {"x": {"datum": 0, "type": "quantitative", "scale": {"domain": [634.6, -65.5], "nice": false, "zero": false}, "axis": null}, "y": {"datum": 0.1875, "type": "quantitative", "scale": {"domain": [-2.625, 7.2656], "nice": false, "zero": false}, "axis": null}, "y2": {"datum": 6.22}}},
   {"mark": {"type": "rule", "strokeWidth": 1.8, "color": "#111"}, "encoding": {"x": {"datum": 575, "type": "quantitative", "scale": {"domain": [634.6, -65.5], "nice": false, "zero": false}, "axis": null}, "x2": {"datum": 0}, "y": {"datum": 0.1875, "type": "quantitative", "scale": {"domain": [-2.625, 7.2656], "nice": false, "zero": false}, "axis": null}}},
   {"mark": {"type": "rule", "strokeWidth": 1.8, "color": "#111"}, "encoding": {"x": {"datum": 575, "type": "quantitative", "scale": {"domain": [634.6, -65.5], "nice": false, "zero": false}, "axis": null}, "y": {"datum": 0.1875, "type": "quantitative", "scale": {"domain": [-2.625, 7.2656], "nice": false, "zero": false}, "axis": null}, "y2": {"datum": 0.37}}},
   {"data": {"values": [{"v": 575, "label": "575"}, {"v": 0, "label": "0"}]}, "mark": {"type": "text", "angle": 270, "align": "right", "baseline": "middle", "fontSize": 20}, "encoding": {"x": {"field": "v", "type": "quantitative", "scale": {"domain": [634.6, -65.5], "nice": false, "zero": false}, "axis": null}, "y": {"datum": -0.016, "type": "quantitative", "scale": {"domain": [-2.625, 7.2656], "nice": false, "zero": false}, "axis": null}, "text": {"field": "label"}}},
   {"mark": {"type": "text", "angle": 270, "align": "right", "baseline": "middle", "fontSize": 19, "text": "N/m²"}, "encoding": {"x": {"datum": 262, "type": "quantitative", "scale": {"domain": [634.6, -65.5], "nice": false, "zero": false}, "axis": null}, "y": {"datum": -0.344, "type": "quantitative", "scale": {"domain": [-2.625, 7.2656], "nice": false, "zero": false}, "axis": null}}},
   {"mark": {"type": "rule", "strokeWidth": 1.2, "color": "#999", "strokeDash": [10, 6]}, "encoding": {"x": {"datum": 181.7, "type": "quantitative", "scale": {"domain": [634.6, -65.5], "nice": false, "zero": false}, "axis": null}, "x2": {"datum": -35.8}, "y": {"datum": -0.8125, "type": "quantitative", "scale": {"domain": [-2.625, 7.2656], "nice": false, "zero": false}, "axis": null}}},
   {"mark": {"type": "text", "angle": 270, "align": "center", "baseline": "middle", "fontSize": 18, "fontWeight": "bold", "text": "t"}, "encoding": {"x": {"datum": 0, "type": "quantitative", "scale": {"domain": [634.6, -65.5], "nice": false, "zero": false}, "axis": null}, "y": {"datum": 6.45, "type": "quantitative", "scale": {"domain": [-2.625, 7.2656], "nice": false, "zero": false}, "axis": null}}}
  ]},
 {"width": 58, "height": 633, "data": {"name": "one"},
  "layer": [
   {"mark": {"type": "text", "angle": 270, "align": "left", "baseline": "middle", "fontSize": 17, "text": "( a )  k = 0.15,   Re = 2.5 x 10⁶"}, "encoding": {"x": {"datum": 15, "type": "quantitative", "scale": {"domain": [0, 58], "nice": false, "zero": false}, "axis": null}, "y": {"datum": 0.39, "type": "quantitative", "scale": {"domain": [-2.625, 7.2656], "nice": false, "zero": false}, "axis": null}}},
   {"mark": {"type": "text", "angle": 270, "align": "left", "baseline": "middle", "fontSize": 17, "text": "α = 6° + 6°  sin ωt"}, "encoding": {"x": {"datum": 47, "type": "quantitative", "scale": {"domain": [0, 58], "nice": false, "zero": false}, "axis": null}, "y": {"datum": 0.656, "type": "quantitative", "scale": {"domain": [-2.625, 7.2656], "nice": false, "zero": false}, "axis": null}}}
  ]}
]}
]
}
